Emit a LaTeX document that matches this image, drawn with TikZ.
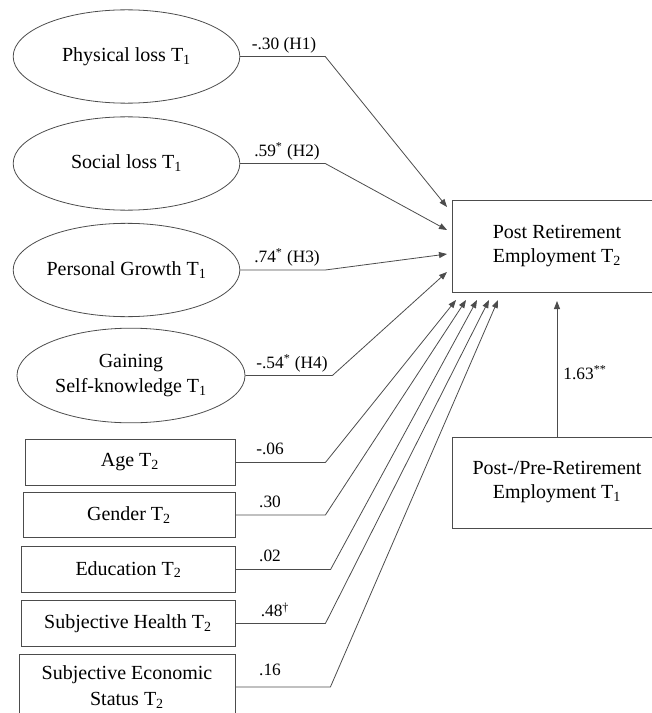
\documentclass[tikz,border=0pt]{standalone}
\usepackage{fontspec}
\setmainfont{Liberation Serif}
\usetikzlibrary{shapes.geometric,arrows.meta}

\tikzset{every picture/.style={line width=0.6pt}}
\tikzset{
  latent/.style={ellipse, draw=black!70, minimum width=170pt, minimum height=70pt, inner sep=0pt, align=center, font=\fontsize{15}{19}\selectfont},
  observed/.style={rectangle, draw=black!70, minimum height=34pt, inner sep=0pt, align=center, font=\fontsize{15}{19}\selectfont},
  outcome/.style={rectangle, draw=black!70, minimum width=157.5pt, minimum height=69pt, inner sep=0pt, align=center, font=\fontsize{15}{18}\selectfont},
  effect/.style={draw=black!70, -{Triangle[length=6pt,width=4.5pt]}},
  coef/.style={inner sep=0pt, font=\fontsize{13}{15}\selectfont}
}

\begin{document}
\begin{tikzpicture}[x=0.75pt,y=0.75pt,yscale=-1,xscale=1]
\useasboundingbox (0,0) rectangle (651,713); %set diagram to 651 x 713

%Shape: Ellipse [id:phys] 
\node [latent] (phys) at (126.5,56.5) {Physical loss T\textsubscript{1}};
%Shape: Ellipse [id:soc] 
\node [latent] (soc) at (126.5,163.5) {Social loss T\textsubscript{1}};
%Shape: Ellipse [id:grow] 
\node [latent] (grow) at (126.5,270) {Personal Growth T\textsubscript{1}};
%Shape: Ellipse [id:self] 
\node [latent, minimum width=171pt, minimum height=71pt] (self) at (131,375.5) {Gaining\\Self-knowledge T\textsubscript{1}};

%Shape: Rectangle [id:age] 
\node [observed, minimum width=157.5pt] (age) at (130,462.5) {Age T\textsubscript{2}};
%Shape: Rectangle [id:gender] 
\node [observed, minimum width=159pt] (gender) at (129,515) {Gender T\textsubscript{2}};
%Shape: Rectangle [id:edu] 
\node [observed, minimum width=160pt] (edu) at (128.5,569.5) {Education T\textsubscript{2}};
%Shape: Rectangle [id:health] 
\node [observed, minimum width=160.5pt] (health) at (128,623.5) {Subjective Health T\textsubscript{2}};
%Shape: Rectangle [id:econ] 
\node [observed, minimum width=162pt, minimum height=49.5pt] (econ) at (127,687) {Subjective Economic\\Status T\textsubscript{2}};

%Shape: Rectangle [id:post] 
\node [outcome] (post) at (557,246) {Post Retirement\\Employment T\textsubscript{2}};
%Shape: Rectangle [id:prior] 
\node [outcome, minimum height=68.25pt] (prior) at (557,482.5) {Post-/Pre-Retirement\\Employment T\textsubscript{1}};

%Arrow ends
\coordinate (t1) at (447,207);
\coordinate (t2) at (447,230);
\coordinate (t3) at (447,254);
\coordinate (t4) at (447,272);
\coordinate (b1) at (456,300);
\coordinate (b2) at (466,300);
\coordinate (b3) at (477,300);
\coordinate (b4) at (489,300);
\coordinate (b5) at (498,300);
\coordinate (tp) at (557,301);

%Straight Lines
\draw [effect] (phys.east) -- ++(85,0) -- (t1) ;
\draw [effect] (soc.east) -- ++(85,0) -- (t2) ;
\draw [effect] (grow.east) -- ++(85,0) -- (t3) ;
\draw [effect] (self.east) -- ++(87,0) -- (t4) ;
\draw [effect] (age.east) -- ++(90,0) -- (b1) ;
\draw [effect] (gender.east) -- ++(90,0) -- (b2) ;
\draw [effect] (edu.east) -- ++(95,0) -- (b3) ;
\draw [effect] (health.east) -- ++(90,0) -- (b4) ;
\draw [effect] (econ.east) -- ++(95,0) -- (b5) ;
\draw [effect] (prior.north) -- (tp) ;

% Text Node
\node [coef] (c1) at (284,45) {-.30 (H1)};
\node [coef] (c2) at (287,151) {.59\textsuperscript{*} (H2)};
\node [coef] (c3) at (287,257) {.74\textsuperscript{*} (H3)};
\node [coef] (c4) at (292,363) {-.54\textsuperscript{*} (H4)};
\node [coef] (c5) at (270,449) {-.06};
\node [coef] (c6) at (270,502) {.30};
\node [coef] (c7) at (270,556) {.02};
\node [coef] (c8) at (275,610) {.48\textsuperscript{\textdagger}};
\node [coef] (c9) at (270,670) {.16};
\node [coef] (c10) at (585,373) {1.63\textsuperscript{**}};

\end{tikzpicture}
\end{document}
